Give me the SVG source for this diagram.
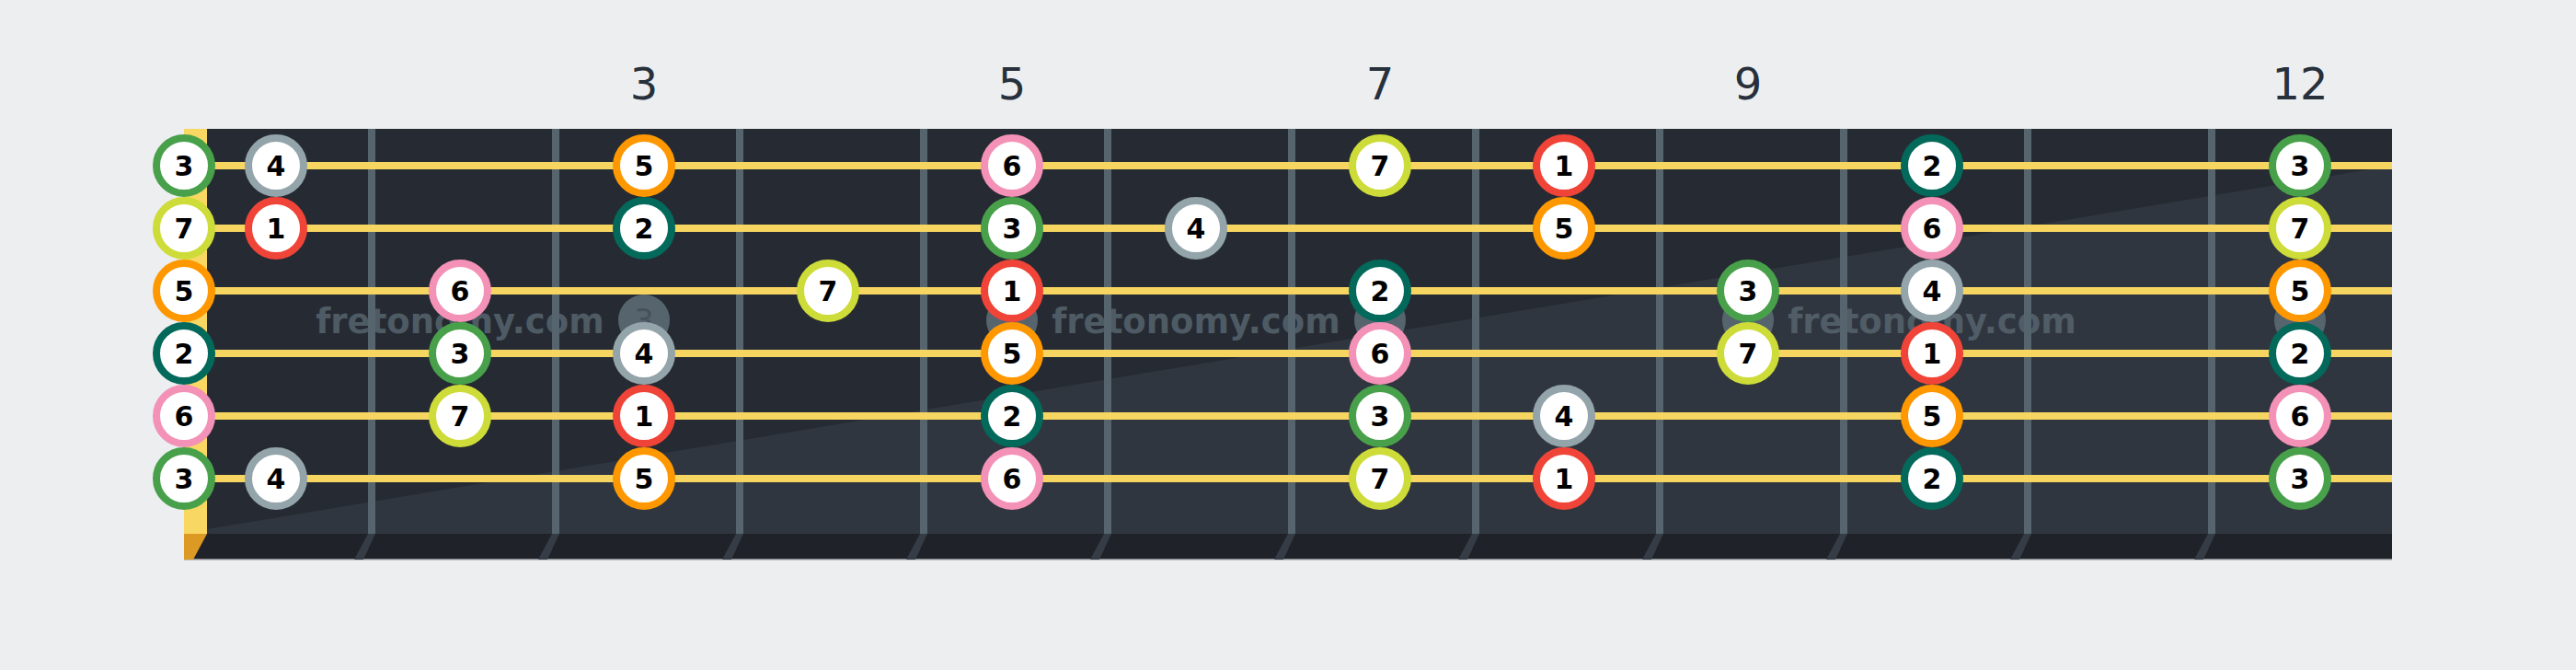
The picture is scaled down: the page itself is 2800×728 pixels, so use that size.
<svg xmlns="http://www.w3.org/2000/svg" width="2800" height="728" viewBox="0 0 2800 728">
<defs>
<style>
.bg{fill:#edeef0}
.fretnum{font-family:"DejaVu Sans",sans-serif;font-size:48px;fill:#27303b;text-anchor:middle}
.fret{fill:#56646e}
.fretsh{fill:#363c45}
.inlay{fill:#56646e}
.inlaytxt{font-family:"DejaVu Sans",sans-serif;font-size:34px;fill:#45525b;text-anchor:middle}
.wm{font-family:"DejaVu Sans",sans-serif;font-weight:bold;font-size:37px;fill:#56646e;fill-opacity:0.85;text-anchor:middle}
.str{stroke:#f6d660;stroke-width:8}
.note circle{fill:#fff;stroke-width:8}
.note text{font-family:"DejaVu Sans",sans-serif;font-weight:bold;font-size:30px;fill:#000;text-anchor:middle}
.d1 circle{stroke:#f04438}
.d2 circle{stroke:#03695a}
.d3 circle{stroke:#48a14a}
.d4 circle{stroke:#93a4aa}
.d5 circle{stroke:#ff9800}
.d6 circle{stroke:#f391b6}
.d7 circle{stroke:#cddc39}
</style>
</defs>
<rect class="bg" x="0" y="0" width="2800" height="728"/>
<g id="fret-numbers">
<text class="fretnum" x="700" y="108">3</text>
<text class="fretnum" x="1100" y="108">5</text>
<text class="fretnum" x="1500" y="108">7</text>
<text class="fretnum" x="1900" y="108">9</text>
<text class="fretnum" x="2500" y="108">12</text>
</g>
<g id="fretboard">
<rect x="200" y="140" width="2400" height="440" fill="#262b33"/>
<polygon points="225,575 2600,180 2600,580 225,580" fill="#30363f"/>
<rect x="200" y="580" width="2400" height="28" fill="#1f2329"/>
<rect x="200" y="607" width="2400" height="1.5" fill="#8a8d91"/>
<rect x="200" y="140" width="25" height="440" fill="#f8d862"/>
<polygon points="200,580 225,580 210,608 200,608" fill="#dc9a24"/>
</g>
<g id="frets">
<rect class="fret" x="400" y="140" width="8" height="440"/>
<rect class="fret" x="600" y="140" width="8" height="440"/>
<rect class="fret" x="800" y="140" width="8" height="440"/>
<rect class="fret" x="1000" y="140" width="8" height="440"/>
<rect class="fret" x="1200" y="140" width="8" height="440"/>
<rect class="fret" x="1400" y="140" width="8" height="440"/>
<rect class="fret" x="1600" y="140" width="8" height="440"/>
<rect class="fret" x="1800" y="140" width="8" height="440"/>
<rect class="fret" x="2000" y="140" width="8" height="440"/>
<rect class="fret" x="2200" y="140" width="8" height="440"/>
<rect class="fret" x="2400" y="140" width="8" height="440"/>
<polygon class="fretsh" points="400,580 408,580 395,608 385,608"/>
<polygon class="fretsh" points="600,580 608,580 595,608 585,608"/>
<polygon class="fretsh" points="800,580 808,580 795,608 785,608"/>
<polygon class="fretsh" points="1000,580 1008,580 995,608 985,608"/>
<polygon class="fretsh" points="1200,580 1208,580 1195,608 1185,608"/>
<polygon class="fretsh" points="1400,580 1408,580 1395,608 1385,608"/>
<polygon class="fretsh" points="1600,580 1608,580 1595,608 1585,608"/>
<polygon class="fretsh" points="1800,580 1808,580 1795,608 1785,608"/>
<polygon class="fretsh" points="2000,580 2008,580 1995,608 1985,608"/>
<polygon class="fretsh" points="2200,580 2208,580 2195,608 2185,608"/>
<polygon class="fretsh" points="2400,580 2408,580 2395,608 2385,608"/>
</g>
<g id="inlays">
<circle class="inlay" cx="700" cy="348" r="28"/>
<text class="inlaytxt" x="700" y="360">3</text>
<circle class="inlay" cx="1100" cy="348" r="28"/>
<circle class="inlay" cx="1500" cy="348" r="28"/>
<circle class="inlay" cx="1900" cy="348" r="28"/>
<circle class="inlay" cx="2500" cy="348" r="28"/>
</g>
<g id="watermark">
<text class="wm" x="500" y="362">fretonomy.com</text>
<text class="wm" x="1300" y="362">fretonomy.com</text>
<text class="wm" x="2100" y="362">fretonomy.com</text>
</g>
<g id="strings">
<line class="str" x1="200" y1="180" x2="2600" y2="180"/>
<line class="str" x1="200" y1="248" x2="2600" y2="248"/>
<line class="str" x1="200" y1="316" x2="2600" y2="316"/>
<line class="str" x1="200" y1="384" x2="2600" y2="384"/>
<line class="str" x1="200" y1="452" x2="2600" y2="452"/>
<line class="str" x1="200" y1="520" x2="2600" y2="520"/>
</g>
<g id="notes-string1">
<g id="s1f0" class="note d3"><circle cx="200" cy="180" r="30"/><text x="200" y="191">3</text></g>
<g id="s1f1" class="note d4"><circle cx="300" cy="180" r="30"/><text x="300" y="191">4</text></g>
<g id="s1f3" class="note d5"><circle cx="700" cy="180" r="30"/><text x="700" y="191">5</text></g>
<g id="s1f5" class="note d6"><circle cx="1100" cy="180" r="30"/><text x="1100" y="191">6</text></g>
<g id="s1f7" class="note d7"><circle cx="1500" cy="180" r="30"/><text x="1500" y="191">7</text></g>
<g id="s1f8" class="note d1"><circle cx="1700" cy="180" r="30"/><text x="1700" y="191">1</text></g>
<g id="s1f10" class="note d2"><circle cx="2100" cy="180" r="30"/><text x="2100" y="191">2</text></g>
<g id="s1f12" class="note d3"><circle cx="2500" cy="180" r="30"/><text x="2500" y="191">3</text></g>
</g>
<g id="notes-string2">
<g id="s2f0" class="note d7"><circle cx="200" cy="248" r="30"/><text x="200" y="259">7</text></g>
<g id="s2f1" class="note d1"><circle cx="300" cy="248" r="30"/><text x="300" y="259">1</text></g>
<g id="s2f3" class="note d2"><circle cx="700" cy="248" r="30"/><text x="700" y="259">2</text></g>
<g id="s2f5" class="note d3"><circle cx="1100" cy="248" r="30"/><text x="1100" y="259">3</text></g>
<g id="s2f6" class="note d4"><circle cx="1300" cy="248" r="30"/><text x="1300" y="259">4</text></g>
<g id="s2f8" class="note d5"><circle cx="1700" cy="248" r="30"/><text x="1700" y="259">5</text></g>
<g id="s2f10" class="note d6"><circle cx="2100" cy="248" r="30"/><text x="2100" y="259">6</text></g>
<g id="s2f12" class="note d7"><circle cx="2500" cy="248" r="30"/><text x="2500" y="259">7</text></g>
</g>
<g id="notes-string3">
<g id="s3f0" class="note d5"><circle cx="200" cy="316" r="30"/><text x="200" y="327">5</text></g>
<g id="s3f2" class="note d6"><circle cx="500" cy="316" r="30"/><text x="500" y="327">6</text></g>
<g id="s3f4" class="note d7"><circle cx="900" cy="316" r="30"/><text x="900" y="327">7</text></g>
<g id="s3f5" class="note d1"><circle cx="1100" cy="316" r="30"/><text x="1100" y="327">1</text></g>
<g id="s3f7" class="note d2"><circle cx="1500" cy="316" r="30"/><text x="1500" y="327">2</text></g>
<g id="s3f9" class="note d3"><circle cx="1900" cy="316" r="30"/><text x="1900" y="327">3</text></g>
<g id="s3f10" class="note d4"><circle cx="2100" cy="316" r="30"/><text x="2100" y="327">4</text></g>
<g id="s3f12" class="note d5"><circle cx="2500" cy="316" r="30"/><text x="2500" y="327">5</text></g>
</g>
<g id="notes-string4">
<g id="s4f0" class="note d2"><circle cx="200" cy="384" r="30"/><text x="200" y="395">2</text></g>
<g id="s4f2" class="note d3"><circle cx="500" cy="384" r="30"/><text x="500" y="395">3</text></g>
<g id="s4f3" class="note d4"><circle cx="700" cy="384" r="30"/><text x="700" y="395">4</text></g>
<g id="s4f5" class="note d5"><circle cx="1100" cy="384" r="30"/><text x="1100" y="395">5</text></g>
<g id="s4f7" class="note d6"><circle cx="1500" cy="384" r="30"/><text x="1500" y="395">6</text></g>
<g id="s4f9" class="note d7"><circle cx="1900" cy="384" r="30"/><text x="1900" y="395">7</text></g>
<g id="s4f10" class="note d1"><circle cx="2100" cy="384" r="30"/><text x="2100" y="395">1</text></g>
<g id="s4f12" class="note d2"><circle cx="2500" cy="384" r="30"/><text x="2500" y="395">2</text></g>
</g>
<g id="notes-string5">
<g id="s5f0" class="note d6"><circle cx="200" cy="452" r="30"/><text x="200" y="463">6</text></g>
<g id="s5f2" class="note d7"><circle cx="500" cy="452" r="30"/><text x="500" y="463">7</text></g>
<g id="s5f3" class="note d1"><circle cx="700" cy="452" r="30"/><text x="700" y="463">1</text></g>
<g id="s5f5" class="note d2"><circle cx="1100" cy="452" r="30"/><text x="1100" y="463">2</text></g>
<g id="s5f7" class="note d3"><circle cx="1500" cy="452" r="30"/><text x="1500" y="463">3</text></g>
<g id="s5f8" class="note d4"><circle cx="1700" cy="452" r="30"/><text x="1700" y="463">4</text></g>
<g id="s5f10" class="note d5"><circle cx="2100" cy="452" r="30"/><text x="2100" y="463">5</text></g>
<g id="s5f12" class="note d6"><circle cx="2500" cy="452" r="30"/><text x="2500" y="463">6</text></g>
</g>
<g id="notes-string6">
<g id="s6f0" class="note d3"><circle cx="200" cy="520" r="30"/><text x="200" y="531">3</text></g>
<g id="s6f1" class="note d4"><circle cx="300" cy="520" r="30"/><text x="300" y="531">4</text></g>
<g id="s6f3" class="note d5"><circle cx="700" cy="520" r="30"/><text x="700" y="531">5</text></g>
<g id="s6f5" class="note d6"><circle cx="1100" cy="520" r="30"/><text x="1100" y="531">6</text></g>
<g id="s6f7" class="note d7"><circle cx="1500" cy="520" r="30"/><text x="1500" y="531">7</text></g>
<g id="s6f8" class="note d1"><circle cx="1700" cy="520" r="30"/><text x="1700" y="531">1</text></g>
<g id="s6f10" class="note d2"><circle cx="2100" cy="520" r="30"/><text x="2100" y="531">2</text></g>
<g id="s6f12" class="note d3"><circle cx="2500" cy="520" r="30"/><text x="2500" y="531">3</text></g>
</g>
</svg>
